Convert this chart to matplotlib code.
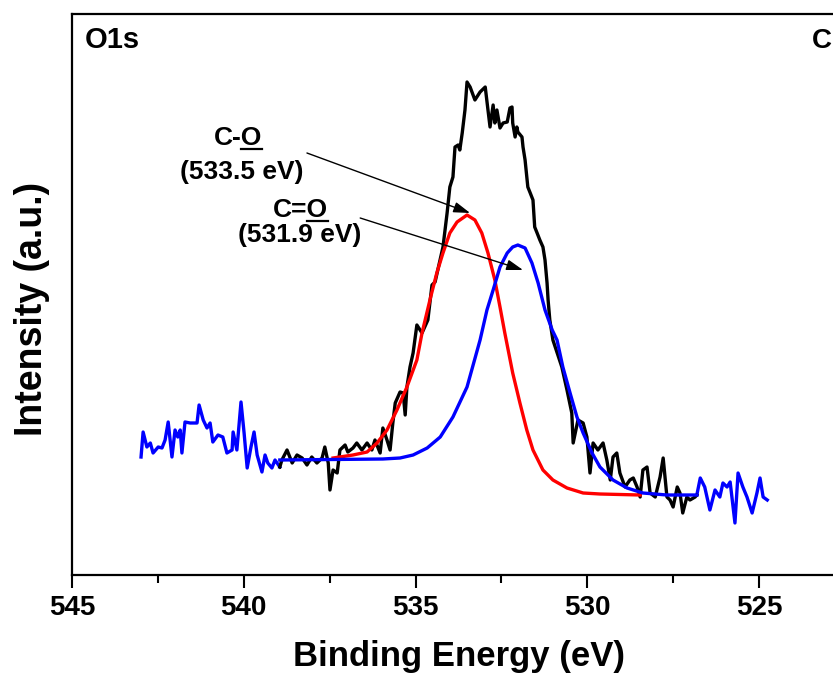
import matplotlib
matplotlib.use('Agg')
import matplotlib.pyplot as plt
from matplotlib.ticker import FixedLocator
from matplotlib.lines import Line2D
from matplotlib.transforms import IdentityTransform

plt.rcParams['font.family'] = ['Liberation Sans', 'DejaVu Sans']
plt.rcParams['font.weight'] = 'bold'

# raw O1s spectrum, outer parts (blue)
be_left = [542.99, 542.93, 542.82, 542.72, 542.64, 542.49, 542.38, 542.29, 542.20, 542.09,
           542.00, 541.92, 541.85, 541.80, 541.71, 541.56, 541.36, 541.30, 541.18, 541.07,
           540.98, 540.90, 540.75, 540.61, 540.49, 540.34, 540.31, 540.20, 540.08, 539.99,
           539.90, 539.79, 539.70, 539.61, 539.47, 539.38, 539.30, 539.18, 539.09, 538.95]
int_left = [118, 143, 128, 132, 122, 128, 127, 135, 153, 118,
            145, 138, 145, 122, 153, 152, 152, 170, 155, 147,
            152, 133, 140, 138, 122, 125, 143, 125, 173, 142,
            107, 128, 143, 120, 103, 120, 112, 107, 115, 108]

be_right = [526.81, 526.71, 526.58, 526.43, 526.28, 526.14, 526.05, 525.93, 525.84, 525.70,
            525.61, 525.47, 525.35, 525.20, 525.06, 524.97, 524.88, 524.76]
int_right = [80, 97, 88, 65, 85, 78, 92, 88, 93, 52,
             102, 88, 78, 62, 82, 97, 78, 75]

# raw O1s spectrum, fitted region (black)
be_raw = [538.95, 538.89, 538.74, 538.59, 538.45, 538.30, 538.16, 538.02, 537.87, 537.72,
          537.64, 537.54, 537.49, 537.40, 537.28, 537.20, 537.05, 536.97, 536.82, 536.71,
          536.56, 536.41, 536.27, 536.18, 536.03, 535.95, 535.83, 535.74, 535.66, 535.59,
          535.45, 535.36, 535.30, 535.25, 535.16, 535.07, 534.96, 534.81, 534.64, 534.52,
          534.43, 534.20, 534.08, 534.00, 533.91, 533.85, 533.76, 533.71, 533.64, 533.56,
          533.50, 533.41, 533.27, 533.12, 532.97, 532.89, 532.83, 532.74, 532.69, 532.63,
          532.54, 532.45, 532.33, 532.25, 532.19, 532.17, 532.10, 532.05, 532.02, 531.90,
          531.87, 531.81, 531.73, 531.66, 531.58, 531.53, 531.46, 531.38, 531.29, 531.23,
          531.17, 531.14, 531.09, 531.00, 530.74, 530.59, 530.45, 530.41, 530.27, 530.12,
          530.01, 529.92, 529.83, 529.69, 529.54, 529.43, 529.33, 529.25, 529.14, 529.05,
          528.90, 528.76, 528.66, 528.55, 528.46, 528.38, 528.26, 528.17, 528.02, 527.88,
          527.79, 527.68, 527.59, 527.50, 527.38, 527.30, 527.22, 527.10, 527.01, 526.86,
          526.81]
int_raw = [108, 115, 125, 112, 120, 117, 110, 118, 112, 117,
           128, 112, 85, 105, 102, 125, 130, 123, 127, 132,
           125, 132, 125, 135, 122, 147, 135, 125, 152, 172,
           183, 182, 160, 188, 208, 222, 250, 242, 255, 290,
           293, 328, 362, 388, 398, 428, 430, 425, 442, 465,
           493, 488, 475, 483, 488, 465, 448, 470, 452, 465,
           447, 452, 453, 467, 468, 452, 438, 448, 443, 438,
           428, 415, 388, 382, 375, 348, 342, 335, 328, 315,
           292, 275, 255, 235, 208, 185, 162, 132, 155, 152,
           138, 102, 132, 125, 132, 115, 95, 118, 122, 102,
           88, 95, 97, 88, 78, 105, 108, 82, 78, 98,
           117, 78, 75, 68, 88, 82, 62, 78, 75, 78,
           80]

# fitted component C-O (red)
be_co = [537.40, 536.82, 536.41, 536.12, 535.83, 535.54, 535.25, 534.96, 534.81, 534.58,
         534.38, 534.20, 534.00, 533.79, 533.50, 533.27, 533.07, 532.89, 532.69, 532.54,
         532.40, 532.17, 531.96, 531.76, 531.58, 531.29, 531.00, 530.59, 530.12, 529.63,
         528.46]
int_co = [117, 120, 123, 132, 145, 165, 188, 215, 242, 275,
          302, 322, 342, 353, 360, 355, 342, 322, 295, 268,
          242, 202, 172, 145, 125, 105, 95, 87, 82, 81,
          80]

# fitted component C=O (blue)
be_cdo = [538.95, 535.95, 535.45, 535.07, 534.66, 534.28, 533.91, 533.50, 533.12, 532.92,
          532.74, 532.54, 532.33, 532.17, 532.02, 531.81, 531.61, 531.43, 531.23, 531.02,
          530.88, 530.71, 530.50, 530.30, 530.12, 529.86, 529.63, 529.25, 528.84, 528.38,
          527.68, 526.81]
int_cdo = [115, 116, 117, 120, 127, 138, 158, 188, 235, 265,
           285, 308, 322, 328, 330, 327, 312, 292, 265, 245,
           235, 208, 182, 158, 142, 122, 108, 95, 87, 82,
           80, 80]

tick_values = [545, 540, 535, 530, 525]
minor_values = [542.5, 537.5, 532.5, 527.5]

fig = plt.figure(figsize=(8.33, 6.75), dpi=100)
ax = fig.add_axes([72 / 833, 1 - 575 / 675, 858.75 / 833, 561 / 675])

lw = 2.4
ax.plot(be_left, int_left, color='#0000ff', lw=lw)
ax.plot(be_right, int_right, color='#0000ff', lw=lw)
ax.plot(be_raw, int_raw, color='black', lw=lw)
ax.plot(be_co, int_co, color='#ff0000', lw=lw)
ax.plot(be_cdo, int_cdo, color='#0000ff', lw=lw)

ax.set_xlim(545, 520)
ax.set_ylim(0, 561)

ax.xaxis.set_major_locator(FixedLocator(tick_values))
ax.xaxis.set_minor_locator(FixedLocator(minor_values))
ax.tick_params(axis='x', which='major', direction='out', length=9.5, width=1.5,
               labelsize=20, pad=5)
ax.tick_params(axis='x', which='minor', direction='out', length=5.5, width=1.5)
ax.tick_params(axis='y', left=False, labelleft=False)
for lab in ax.get_xticklabels():
    lab.set_fontweight('bold')
for sp in ax.spines.values():
    sp.set_linewidth(1.6)

ax.set_xlabel('Binding Energy (eV)', fontsize=25, fontweight='bold', va='baseline')
ax.xaxis.set_label_coords(0.4507, -0.1622)
ax.set_ylabel('Intensity (a.u.)', fontsize=27, fontweight='bold', va='baseline')
ax.yaxis.set_label_coords(-0.035, 0.474)

ax.text(0.0151, 0.9537, 'O1s', transform=ax.transAxes, fontsize=21,
        fontweight='bold', va='center', ha='left')
ax.text(0.862, 0.952, 'C', transform=ax.transAxes, fontsize=20,
        fontweight='bold', va='center', ha='left')

t1 = ax.text(540.17, 430, 'C-O', fontsize=19, fontweight='bold',
             ha='center', va='baseline')
ax.text(540.05, 396, '(533.5 eV)', fontsize=19, fontweight='bold',
        ha='center', va='baseline')
t2 = ax.text(538.36, 358, 'C=O', fontsize=19, fontweight='bold',
             ha='center', va='baseline')
ax.text(538.36, 333, '(531.9 eV)', fontsize=19, fontweight='bold',
        ha='center', va='baseline')

arrow = dict(arrowstyle='-|>,head_length=1.0,head_width=0.32', color='black',
             lw=1.0, shrinkA=0, shrinkB=0)
ax.annotate('', xy=(533.41, 362), xytext=(538.16, 422), arrowprops=arrow)
ax.annotate('', xy=(531.87, 305), xytext=(536.61, 357), arrowprops=arrow)

# underline the O in both labels
fig.canvas.draw()
renderer = fig.canvas.get_renderer()
probe = ax.text(0, 0, 'O', fontsize=19, fontweight='bold', transform=None)
w_o = probe.get_window_extent(renderer).width
probe.remove()
for t in (t1, t2):
    bb = t.get_window_extent(renderer)
    x_base, y_base = ax.transData.transform(t.get_position())
    fig.add_artist(Line2D([bb.x1 - w_o, bb.x1], [y_base - 4, y_base - 4],
                          transform=IdentityTransform(), color='black', lw=1.6))

fig.savefig('out.png', dpi=100)
